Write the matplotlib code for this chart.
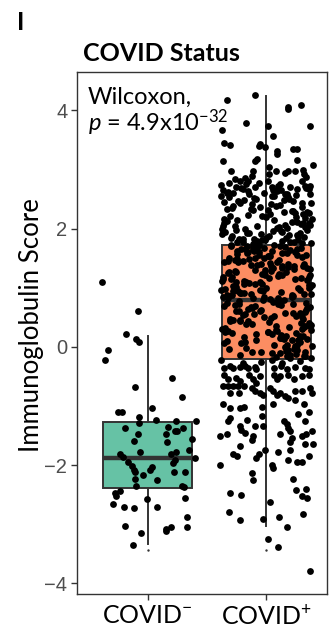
import numpy as np
import matplotlib
matplotlib.use("Agg")
import matplotlib.pyplot as plt

plt.rcParams['font.family'] = ['Lato', 'DejaVu Sans']
plt.rcParams['mathtext.fontset'] = 'custom'
plt.rcParams['mathtext.rm'] = 'Lato'
plt.rcParams['mathtext.it'] = 'Lato:italic'
plt.rcParams['mathtext.bf'] = 'Lato:bold'

# groups and box summaries
groups = ["COVID$^{-}$", "COVID$^{+}$"]
box_colors = ["#66C2A5", "#FC8D62"]
q1 = [-2.38, -0.21]
med = [-1.88, 0.80]
q3 = [-1.27, 1.73]
whis_lo = [-3.33, -3.03]
whis_hi = [0.19, 4.24]
whis_end = [-3.44, -3.44]

# COVID- points: score and horizontal jitter
neg_y = [1.10, 0.60, 0.21, 0.14, 0.09, -0.05, -0.23, -0.53, -0.67, -0.85,
         -1.04, -1.10, -1.10, -1.18, -1.23, -1.25, -1.26, -1.29, -1.37, -1.35,
         -1.37, -1.42, -1.42, -1.48, -1.47, -1.56, -1.60, -1.61, -1.77, -1.75,
         -1.78, -1.82, -1.82, -1.86, -1.88, -1.91, -1.96, -1.95, -2.02, -2.03,
         -2.09, -2.08, -2.12, -2.12, -2.12, -2.16, -2.23, -2.25, -2.36, -2.35,
         -2.37, -2.43, -2.47, -2.52, -2.57, -2.55, -2.65, -2.70, -2.73, -2.71,
         -2.88, -3.03, -3.04, -3.05, -3.08, -3.11, -3.14, -3.35]
neg_dx = [-0.40, -0.09, -0.19, -0.10, -0.08, -0.35, -0.38, 0.21, -0.11, 0.30,
          0.04, -0.26, -0.23, -0.08, 0.07, 0.25, 0.42, -0.08, -0.20, 0.18,
          0.31, 0.24, 0.26, -0.09, 0.16, 0.39, -0.12, 0.17, -0.07, 0.36,
          0.25, 0.20, -0.24, -0.22, 0.41, 0.24, 0.22, -0.17, -0.14, 0.04,
          0.02, -0.12, -0.11, 0.23, 0.33, -0.04, -0.11, 0.08, -0.10, 0.30,
          0.32, -0.24, -0.29, -0.28, -0.01, 0.33, -0.31, -0.21, -0.12, 0.08,
          0.34, -0.20, 0.34, 0.20, 0.16, 0.16, -0.06, -0.13]

# COVID+ points, upper tail
pos_top_y = [4.18, 4.26, 4.05, 4.02, 4.10, 3.67, 3.79, 3.73, 3.74, 3.56,
             3.45, 3.41, 3.44, 3.40, 3.38, 3.31, 3.27, 3.35, 3.35, 3.15,
             3.17, 3.14, 3.16, 3.08, 2.98, 3.04, 2.92, 2.98, 2.94, 2.97,
             2.98, 2.99, 2.92, 2.97, 2.89, 2.84, 2.81, 2.86, 2.81, 2.81,
             2.87, 2.74, 2.65, 2.61, 2.70, 2.56, 2.70, 2.67, 2.73, 2.67, 2.58]
pos_top_dx = [-0.35, -0.10, 0.19, 0.19, 0.30, -0.39, -0.18, 0.01, 0.38, 0.06,
              -0.37, -0.32, -0.06, -0.07, -0.01, 0.09, 0.09, 0.23, 0.27, -0.38,
              -0.08, -0.10, 0.27, 0.41, -0.31, 0.02, 0.02, 0.08, 0.16, 0.19,
              0.25, 0.32, 0.33, -0.12, -0.13, -0.28, -0.23, -0.19, -0.16, 0.31,
              0.35, -0.40, -0.38, -0.35, 0.05, 0.07, 0.21, 0.27, 0.34, 0.37, 0.38]

# COVID+ points between the box and the upper tail
pos_mid_y = [2.12, 1.84, 2.55, 1.97, 2.31, 2.70, 1.79, 2.43, 2.05, 2.64, 1.90, 2.22,
             2.48, 1.76, 2.36, 2.01, 2.77, 1.88, 2.18, 2.59, 1.82, 2.27, 2.66, 1.95,
             2.08, 2.51, 1.78, 2.39, 2.14, 2.73, 1.93, 2.29, 2.60, 1.86, 2.45, 2.03,
             2.34, 1.81, 2.68, 2.19, 1.99, 2.53, 2.10, 2.78, 1.87, 2.41, 2.25, 1.77,
             2.62, 2.06, 1.92, 2.47, 2.16, 2.75, 1.83, 2.33, 2.57, 2.00, 2.38, 1.80,
             1.96, 2.44, 2.21, 2.69, 1.85, 2.11, 2.56, 2.30, 1.79, 2.63, 2.04, 2.50,
             2.26, 1.91, 2.72, 2.09, 2.37, 1.83, 2.58, 2.15, 2.80, 1.94, 2.42, 2.02,
             1.98, 2.24, 1.75, 2.52, 2.13, 1.89, 2.40, 2.67, 2.07, 1.81, 2.35, 2.20,
             2.58, 1.93, 2.46, 1.78, 2.28, 2.71, 2.01, 2.17, 1.86, 2.54, 2.32, 1.96,
             2.76, 2.10, 1.84, 2.43, 2.61, 2.05, 1.77, 2.30, 2.49, 1.91, 2.23, 2.65]
pos_mid_dx = [0.22, -0.31, 0.05, 0.36, -0.12, -0.27, 0.14, 0.31, -0.38, 0.09, 0.27, -0.04,
              -0.20, 0.39, -0.06, 0.18, -0.33, 0.02, 0.34, -0.15, -0.24, 0.25, 0.13, -0.36,
              0.30, -0.09, 0.21, -0.29, 0.07, 0.38, -0.17, 0.15, -0.02, 0.33, -0.37, 0.11,
              -0.14, 0.28, -0.22, 0.00, -0.39, 0.19, 0.37, -0.07, -0.30, 0.04, 0.32, 0.24,
              -0.34, 0.16, 0.29, -0.25, 0.40, 0.12, -0.11, -0.35, 0.26, -0.19, 0.08, -0.01,
              0.06, -0.23, -0.32, 0.35, 0.17, 0.27, -0.40, 0.23, -0.08, -0.16, -0.28, 0.20,
              0.37, -0.05, 0.10, -0.37, 0.31, -0.21, 0.18, -0.26, 0.01, 0.14, -0.13, 0.34,
              -0.27, 0.03, 0.31, -0.11, -0.35, 0.20, 0.12, -0.21, 0.38, -0.04, -0.30, 0.26,
              0.16, -0.15, 0.23, -0.26, 0.36, -0.10, 0.09, -0.37, 0.28, -0.33, 0.01, 0.13,
              -0.18, 0.32, 0.00, 0.39, -0.29, -0.08, -0.21, 0.22, 0.15, -0.39, -0.16, 0.06]

# COVID+ points inside the box
pos_box_y = [1.72, 0.15, 1.33, -0.08, 0.91, 1.55, 0.42, 1.18, -0.15, 0.67, 1.41, 0.03,
             1.64, 0.88, 0.27, 1.09, -0.19, 1.50, 0.58, 1.26, 0.11, 0.79, 1.69, 0.36,
             0.97, 1.37, -0.03, 0.51, 1.61, 0.22, 1.02, 0.73, 1.47, -0.12, 0.31, 1.21,
             0.62, 1.12, 1.58, 0.07, 0.84, 1.30, 0.45, -0.17, 1.67, 0.95, 0.19, 1.44,
             0.39, 1.04, 0.71, 1.53, -0.06, 0.26, 1.36, 0.83, 1.73, 0.54, 1.15, 0.01,
             1.28, 0.47, 1.62, 0.12, 0.93, -0.14, 1.07, 0.65, 1.45, 0.33, 1.71, 0.76,
             0.18, 1.39, 0.86, 1.19, 0.56, -0.01, 1.57, 0.29, 0.99, 1.24, 0.69, 1.66,
             1.49, 0.09, 0.78, 1.34, 0.41, 1.11, -0.18, 0.61, 1.59, 0.24, 0.89, 1.06,
             0.53, 1.68, 0.35, 1.01, 1.43, -0.09, 0.74, 1.22, 0.16, 1.52, 0.81, 0.44,
             1.14, 0.04, 1.63, 0.59, 0.92, 1.31, 0.21, 1.70, -0.11, 0.68, 1.38, 0.87,
             0.28, 1.48, 0.96, 0.13, 1.17, 0.63, 1.56, 0.38, -0.05, 1.27, 0.72, 1.65,
             1.03, 0.49, 1.35, 0.82, -0.16, 1.60, 0.23, 0.98, 1.42, 0.57, 0.08, 1.19,
             0.71, 1.25, 0.17, 1.54, 0.94, 0.37, 1.08, -0.07, 1.67, 0.48, 1.29, 0.85,
             1.46, 0.02, 0.66, 1.13, 0.32, 1.72, 0.88, -0.13, 1.36, 0.55, 1.00, 0.25,
             0.14, 1.58, 0.77, 1.23, 0.43, 0.97, 1.69, 0.06, 1.32, 0.61, -0.10, 1.50,
             1.20, 0.34, 1.44, 0.90, 0.12, 1.62, 0.52, 1.05, -0.02, 0.80, 1.40, 0.27,
             0.60, 1.16, 0.04, 1.51, 0.75, 1.30, 0.20, 0.95, 1.66, 0.40, 1.10, -0.14,
             1.55, 0.46, 0.89, 1.26, 0.10, 1.71, 0.64, 0.30, 1.37, 0.84, -0.04, 1.07,
             0.19, 1.33, 0.70, 1.60, 0.50, 1.14, -0.09, 0.92, 1.47, 0.36, 1.00, 1.74,
             0.83, 1.22, 0.26, 1.65, 0.58, -0.16, 1.09, 0.73, 1.41, 0.15, 1.53, 0.44]
pos_box_dx = [-0.31, 0.12, 0.36, -0.05, -0.22, 0.27, 0.02, -0.38, 0.18, -0.14, 0.33, 0.07,
              0.21, -0.35, 0.09, -0.18, 0.39, -0.02, 0.29, -0.27, -0.09, 0.15, -0.12, 0.34,
              -0.06, 0.24, -0.33, 0.31, -0.16, 0.05, 0.38, -0.24, 0.11, 0.26, -0.39, -0.01,
              0.35, -0.20, 0.14, -0.37, 0.22, -0.10, -0.29, 0.08, 0.30, -0.03, 0.17, -0.25,
              -0.13, 0.37, -0.28, 0.01, 0.19, -0.36, 0.32, 0.10, -0.07, -0.21, 0.25, 0.40,
              0.04, -0.32, -0.11, 0.28, 0.13, -0.23, -0.04, 0.36, -0.34, 0.20, -0.17, 0.06,
              0.32, -0.08, 0.23, -0.30, -0.19, 0.16, -0.26, 0.39, 0.00, 0.11, -0.37, 0.27,
              -0.15, 0.29, -0.24, 0.06, 0.37, -0.39, 0.21, -0.06, 0.18, -0.30, 0.33, -0.10,
              0.26, -0.02, 0.38, -0.27, 0.09, -0.13, -0.35, 0.14, -0.20, 0.31, 0.03, -0.16,
              -0.38, 0.18, 0.05, 0.34, -0.23, 0.24, -0.09, -0.31, 0.12, 0.38, -0.14, 0.22,
              0.08, -0.26, -0.40, 0.15, 0.30, -0.05, 0.35, -0.18, 0.27, -0.33, 0.10, -0.22,
              -0.29, 0.04, 0.19, -0.12, 0.34, -0.07, 0.26, -0.36, 0.03, 0.23, -0.19, 0.37,
              0.13, -0.34, 0.29, 0.02, -0.25, 0.39, -0.15, 0.17, -0.08, 0.32, -0.28, -0.02,
              -0.21, 0.25, -0.13, 0.36, -0.36, 0.07, -0.30, 0.20, 0.14, -0.11, 0.28, 0.01,
              0.36, -0.17, 0.11, -0.04, -0.32, 0.29, 0.16, -0.22, 0.38, -0.27, 0.05, -0.10,
              0.10, 0.33, -0.37, -0.14, 0.22, -0.26, 0.07, 0.40, -0.18, -0.03, 0.19, -0.34,
              -0.24, 0.02, 0.27, -0.33, 0.35, -0.01, 0.13, -0.29, -0.12, 0.30, -0.06, 0.21,
              -0.07, -0.23, 0.39, 0.17, -0.35, 0.12, -0.16, 0.31, 0.04, -0.38, 0.24, -0.20,
              0.29, 0.14, -0.10, 0.25, -0.02, -0.31, 0.34, -0.20, -0.28, 0.08, 0.37, -0.12,
              -0.34, 0.38, 0.01, -0.19, 0.16, 0.33, -0.27, 0.23, -0.05, 0.13, 0.03, -0.23]

# COVID+ points below the box
pos_low_y = [-0.35, -0.33, -0.35, -0.34, -0.33, -0.36, -0.34, -0.38, -0.35, -0.33,
             -0.38, -0.34, -0.35, -0.38, -0.47, -0.55, -0.52, -0.57, -0.47, -0.55,
             -0.61, -0.49, -0.47, -0.55, -0.49, -0.47, -0.55, -0.49, -0.47, -0.66,
             -0.66, -0.66, -0.66, -0.66, -0.69, -0.75, -0.78, -0.81, -0.69, -0.75,
             -0.81, -0.78, -0.83, -0.86, -0.75, -0.74, -0.69, -0.78, -0.78, -0.78,
             -0.89, -0.97, -0.96, -0.97, -1.03, -1.03, -1.02, -1.02, -1.14, -1.10,
             -1.17, -1.20, -1.26, -1.23, -1.26, -1.31, -1.37, -1.43, -1.26, -1.34,
             -1.40, -1.45, -1.33, -1.34, -1.47, -1.43, -1.51, -1.48, -1.51, -1.57,
             -1.54, -1.61, -1.51, -1.48, -1.65, -1.65, -1.68, -1.74, -1.77, -1.74,
             -1.82, -1.88, -1.82, -1.85, -1.91, -1.94, -1.94, -1.85, -1.99, -1.99,
             -2.05, -2.13, -2.26, -2.23, -2.42, -2.40, -2.47, -2.50, -2.52, -2.56,
             -2.62, -2.80, -2.92, -2.91, -2.88, -2.83, -3.04, -3.25, -3.39, -3.79,
             -0.22, -0.25, -0.28, -0.24, -0.27, -0.23]
pos_low_dx = [-0.37, -0.32, -0.29, -0.23, -0.19, -0.16, -0.10, -0.09, 0.07, 0.13,
              0.18, 0.25, 0.34, 0.37, -0.37, -0.34, -0.27, -0.23, -0.15, -0.12,
              -0.09, -0.06, 0.07, 0.09, 0.12, 0.19, 0.24, 0.31, 0.37, -0.38,
              -0.34, -0.29, -0.25, -0.20, -0.13, -0.10, -0.06, -0.03, 0.03, 0.06,
              0.09, 0.12, 0.16, 0.19, 0.25, 0.31, 0.38, 0.40, -0.32, -0.24,
              0.25, 0.06, 0.33, -0.38, -0.32, -0.23, -0.20, -0.04, 0.28, 0.37,
              -0.04, -0.32, -0.34, -0.17, 0.15, 0.18, 0.19, 0.21, 0.34, -0.23,
              -0.22, -0.19, -0.10, -0.03, 0.12, 0.40, -0.41, -0.35, -0.12, -0.13,
              0.22, 0.21, 0.31, 0.35, 0.34, 0.41, -0.23, -0.01, 0.10, 0.21,
              -0.07, -0.09, -0.29, -0.26, 0.19, 0.27, 0.31, 0.37, -0.41, 0.05,
              0.06, -0.13, -0.12, 0.23, 0.26, 0.35, -0.32, -0.22, 0.31, 0.36,
              0.03, -0.33, -0.23, -0.03, 0.11, 0.32, 0.18, 0.01, 0.10, 0.38,
              -0.40, -0.05, 0.14, 0.29, -0.21, 0.05]

pos_y = np.array(pos_top_y + pos_mid_y + pos_box_y + pos_low_y)
pos_dx = np.array(pos_top_dx + pos_mid_dx + pos_box_dx + pos_low_dx)

W, H = 331, 631
fig = plt.figure(figsize=(W / 100, H / 100), dpi=100)
ax = fig.add_axes([77 / W, 1 - 594 / H, (327 - 77) / W, (594 - 72) / H])

stats = []
for i in range(2):
    stats.append(dict(q1=q1[i], med=med[i], q3=q3[i], whislo=whis_lo[i], whishi=whis_hi[i]))
bp = ax.bxp(stats, positions=[1, 2], widths=0.75, patch_artist=True,
            showfliers=False, showcaps=False,
            boxprops=dict(edgecolor='#333333', linewidth=1.4),
            medianprops=dict(color='#333333', linewidth=3.2, solid_capstyle='butt'),
            whiskerprops=dict(color='#333333', linewidth=1.4))
for patch, col in zip(bp['boxes'], box_colors):
    patch.set_facecolor(col)
    patch.set_zorder(2)

ax.scatter([1, 2], whis_end, s=3, c='#333333', lw=0, zorder=2)

# jitter was read in units of 113.6 px, axis runs 118.5 px per category
ax.scatter(1 + 0.96 * np.array(neg_dx), neg_y, s=24, c='black', lw=0, zorder=3)
ax.scatter(2 + 0.96 * pos_dx, pos_y, s=24, c='black', lw=0, zorder=3)

ax.set_xlim(0.403, 2.51)
ax.set_ylim(-4.18, 4.65)
for s in ax.spines.values():
    s.set_color('#333333')
    s.set_linewidth(1.0)

ax.set_yticks([-4, -2, 0, 2, 4])
ax.set_yticklabels(['\u22124', '\u22122', '0', '2', '4'], family='Liberation Sans',
                   fontsize=14.5, color='#4D4D4D')
ax.set_xticks([1, 2])
ax.set_xticklabels(groups, fontsize=18, color='black')
ax.tick_params(axis='both', length=4, width=1.0, color='#333333', pad=3)

fig.text(32 / W, 1 - 325 / H, "Immunoglobulin Score", rotation=90, fontsize=18.5,
         ha='center', va='center')
fig.text(83 / W, 1 - 61 / H, "COVID Status", fontsize=18, weight='bold', va='baseline')
fig.text(17 / W, 1 - 30 / H, "I", fontsize=18, weight='bold', va='baseline')
fig.text(88 / W, 1 - 104 / H, "Wilcoxon,", fontsize=17, va='baseline')
fig.text(88 / W, 1 - 131 / H, "$\\it{p}$ = 4.9x10$^{-32}$", fontsize=17, va='baseline')

fig.savefig("out.png", dpi=100)
